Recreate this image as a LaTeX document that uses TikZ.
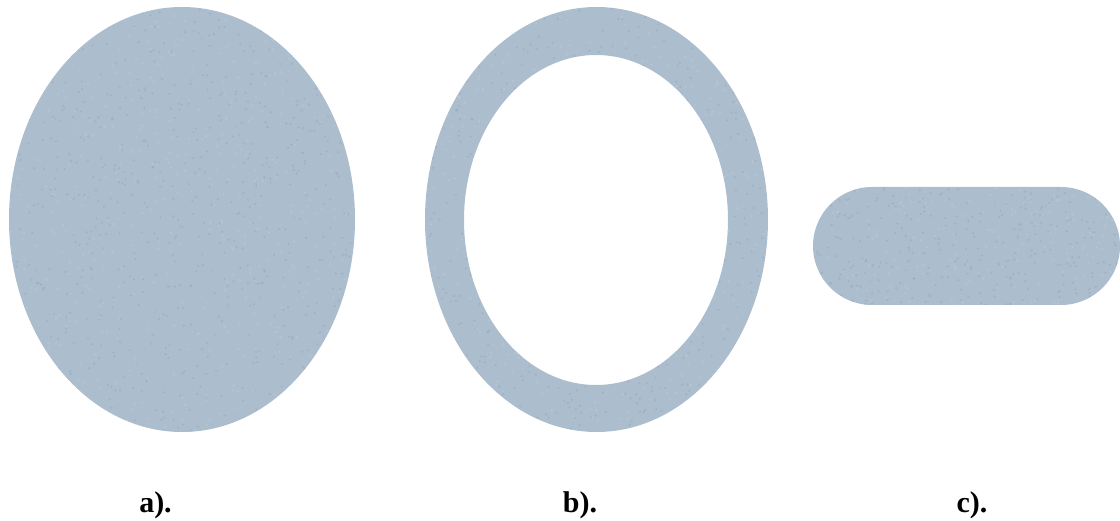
\documentclass[tikz,border=0pt]{standalone}
\usepackage{fontspec}
\setmainfont{Liberation Serif}
\definecolor{felt}{RGB}{172,190,205}
\definecolor{feltdark}{RGB}{140,158,176}
\definecolor{feltlight}{RGB}{190,205,216}
\tikzset{
  shapefill/.style={fill=felt, draw=none},
  caption/.style={font=\fontsize{30}{36}\selectfont\bfseries, anchor=base, inner sep=0pt}
}
\begin{document}
\begin{tikzpicture}[x=1pt,y=1pt]
\useasboundingbox (0,0) rectangle (1120,520);
% a) filled ellipse
\fill[shapefill] (182,300.5) ellipse [x radius=173, y radius=212.5];
% b) ring
\fill[shapefill, even odd rule] (596.5,300.5) ellipse [x radius=171.5, y radius=212.5]
      (596,300) ellipse [x radius=132, y radius=165];
% c) stadium
\fill[shapefill, rounded corners=59] (813,215) rectangle (1120,333);
% felt texture
\pgfmathsetseed{7}
\begin{scope}
  \clip (182,300.5) ellipse [x radius=173, y radius=212.5];
  \foreach \i in {1,...,700}{
    \pgfmathsetmacro{\px}{182+173*rand}
    \pgfmathsetmacro{\py}{300.5+212.5*rand}
    \fill[feltdark, opacity=0.35] (\px,\py) circle (1.2);
  }
  \foreach \i in {1,...,500}{
    \pgfmathsetmacro{\px}{182+173*rand}
    \pgfmathsetmacro{\py}{300.5+212.5*rand}
    \fill[feltlight, opacity=0.4] (\px,\py) circle (1.4);
  }
\end{scope}
\begin{scope}[even odd rule]
  \clip (596.5,300.5) ellipse [x radius=171.5, y radius=212.5]
      (596,300) ellipse [x radius=132, y radius=165];
  \foreach \i in {1,...,700}{
    \pgfmathsetmacro{\px}{596.5+171.5*rand}
    \pgfmathsetmacro{\py}{300.5+212.5*rand}
    \fill[feltdark, opacity=0.35] (\px,\py) circle (1.2);
  }
  \foreach \i in {1,...,500}{
    \pgfmathsetmacro{\px}{596.5+171.5*rand}
    \pgfmathsetmacro{\py}{300.5+212.5*rand}
    \fill[feltlight, opacity=0.4] (\px,\py) circle (1.4);
  }
\end{scope}
\begin{scope}[rounded corners=59]
  \clip (813,215) rectangle (1120,333);
  \foreach \i in {1,...,300}{
    \pgfmathsetmacro{\px}{966.5+153.5*rand}
    \pgfmathsetmacro{\py}{274+59*rand}
    \fill[feltdark, opacity=0.35] (\px,\py) circle (1.2);
  }
  \foreach \i in {1,...,200}{
    \pgfmathsetmacro{\px}{966.5+153.5*rand}
    \pgfmathsetmacro{\py}{274+59*rand}
    \fill[feltlight, opacity=0.4] (\px,\py) circle (1.4);
  }
\end{scope}
% captions
\node[caption] (la) at (155.5,8) {a).};
\node[caption] (lb) at (580,8) {b).};
\node[caption] (lc) at (972,8) {c).};
\end{tikzpicture}
\end{document}
